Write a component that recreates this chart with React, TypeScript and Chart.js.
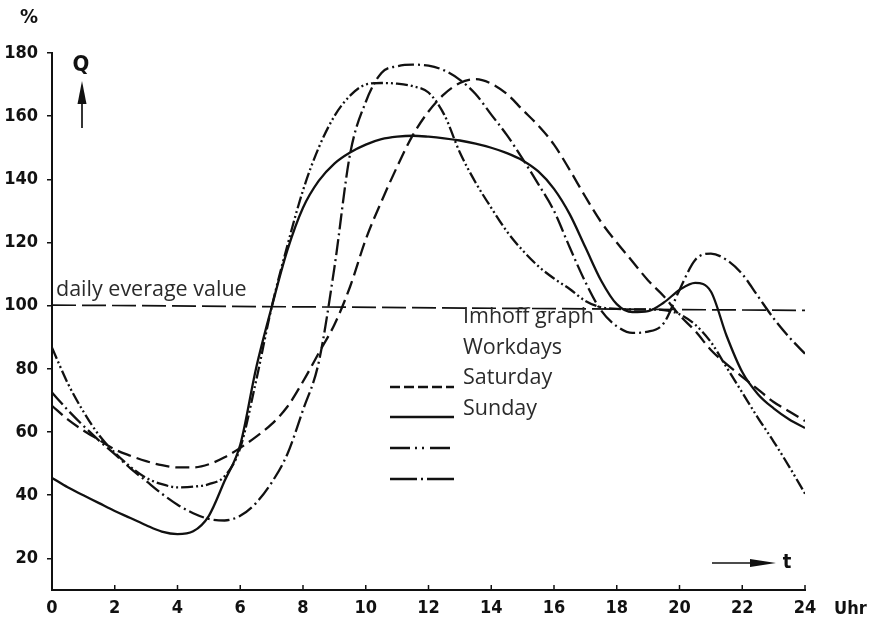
import React, { useEffect, useRef } from 'react';
import { Chart, registerables } from 'chart.js';

Chart.register(...registerables);

// ---- data ----
const hours = [0, 0.5, 1, 1.5, 2, 2.5, 3, 3.5, 4, 4.5, 5, 5.5, 6, 6.5, 7, 7.5, 8, 8.5, 9, 9.5, 10, 10.5, 11, 11.5, 12, 12.5, 13, 13.5, 14, 14.5, 15, 15.5, 16, 16.5, 17, 17.5, 18, 18.5, 19, 19.5, 20, 20.5, 21, 21.5, 22, 22.5, 23, 23.5, 24];

// dashed curve
const imhoffDashed = [68.3, 64, 60.5, 57.5, 54.5, 52.5, 50.8, 49.5, 48.8, 48.8, 49.8, 52, 55, 58.5, 62.5, 68, 76, 85, 94, 106, 121, 133, 144, 154, 161.5, 167, 170.5, 171.7, 170.3, 167, 162, 157, 151, 143, 134.5, 126.5, 120, 114, 108, 103, 97, 92, 86, 81.5, 77.5, 73.5, 69.5, 66.5, 63.5];
// solid curve
const workdaysSolid = [45.5, 42.5, 40, 37.5, 35, 32.8, 30.5, 28.5, 27.7, 28.6, 33.5, 44.5, 56, 80, 99.5, 117.5, 131, 139.5, 145, 148.5, 151, 152.7, 153.5, 153.8, 153.5, 153, 152.3, 151.3, 150, 148.3, 146, 142.5, 137, 129, 118.5, 108, 100.5, 98, 98.3, 101, 105, 107.2, 104.5, 90.5, 79, 72, 67.5, 64, 61.3];
// dash-dot-dot curve
const saturdayDashDotDot = [86.7, 75.5, 66.5, 59, 53.5, 49, 45.5, 43.5, 42.5, 42.7, 43.5, 46, 55, 76, 99.5, 119, 136.5, 150, 160, 166.5, 170, 170.5, 170.3, 169.5, 167.5, 160.5, 148.5, 139, 131, 123.5, 117.5, 112.5, 108.6, 105.3, 101.5, 99.5, 99, 98.8, 98.8, 98.6, 97.3, 94, 88.5, 80.5, 72.5, 64.5, 57, 49, 40.5];
// dash-dot curve
const sundayDashDot = [72.5, 67, 62, 57.3, 53, 48.5, 44.5, 40.5, 37, 34.3, 32.5, 32, 33.5, 37.5, 44, 53, 67, 82, 112, 148, 164.5, 173.7, 175.8, 176.3, 176, 174.5, 171.5, 167, 160.5, 154, 146.5, 138.5, 130, 118.5, 107.5, 98.5, 93.5, 91.4, 91.8, 94.5, 105, 114.5, 116.5, 114.5, 110, 103, 96, 90, 84.8];

// daily average reference line (as drawn, slightly tilted in the scan)
const averageHours = [0, 24];
const averageValues = [100.2, 98.5];

const xTickValues = [0, 2, 4, 6, 8, 10, 12, 14, 16, 18, 20, 22, 24];
const yTickValues = [20, 40, 60, 80, 100, 120, 140, 160, 180];

const legendTitle = 'Imhoff graph';
const legendLabels = ['Workdays', 'Saturday', 'Sunday'];
const averageLabel = 'daily everage value';

// ---- styling ----
const INK = '#111111';
const TEXT_INK = '#2b2b2b';
const LETTER = '"DejaVu Sans Condensed", "DejaVu Sans", sans-serif';
const SANS = '"Open Sans", "Noto Sans", sans-serif';

const DASHED = [14, 6];
const DASH_DOT = [16, 4, 2, 4];
const DASH_DOT_DOT = [12, 3, 2, 3, 2, 3];

const toPoints = (xs: number[], ys: number[]) => xs.map((x, i) => ({ x, y: ys[i] }));

const annotationPlugin = {
  id: 'annotations',
  afterDraw(chart: any) {
    const { ctx, chartArea, scales } = chart;
    const xs = scales.x;
    ctx.save();

    // inner tick marks on the time axis
    ctx.strokeStyle = INK;
    ctx.lineWidth = 1.5;
    ctx.setLineDash([]);
    for (const v of xTickValues) {
      const px = xs.getPixelForValue(v);
      ctx.beginPath();
      ctx.moveTo(px, chartArea.bottom);
      ctx.lineTo(px, chartArea.bottom - 5);
      ctx.stroke();
    }

    ctx.fillStyle = INK;
    ctx.textBaseline = 'middle';

    // "%" unit
    ctx.font = `bold 20px ${LETTER}`;
    ctx.textAlign = 'center';
    ctx.fillText('%', 29, 18);

    // Q with up arrow
    ctx.font = `bold 22px ${LETTER}`;
    ctx.fillText('Q', 81, 65);
    ctx.lineWidth = 1.7;
    ctx.beginPath();
    ctx.moveTo(82, 128);
    ctx.lineTo(82, 100);
    ctx.stroke();
    ctx.beginPath();
    ctx.moveTo(82, 81);
    ctx.lineTo(77.5, 104);
    ctx.lineTo(86.5, 104);
    ctx.closePath();
    ctx.fill();

    // t with right arrow
    ctx.beginPath();
    ctx.moveTo(712, 563);
    ctx.lineTo(752, 563);
    ctx.stroke();
    ctx.beginPath();
    ctx.moveTo(776, 563);
    ctx.lineTo(750, 559);
    ctx.lineTo(750, 567);
    ctx.closePath();
    ctx.fill();
    ctx.font = `bold 20px ${LETTER}`;
    ctx.fillText('t', 787, 563);

    // Uhr
    ctx.font = `bold 18px ${LETTER}`;
    ctx.textAlign = 'left';
    ctx.fillText('Uhr', 834, 609);

    // daily average label
    ctx.fillStyle = TEXT_INK;
    ctx.font = `21.5px ${SANS}`;
    ctx.textBaseline = 'alphabetic';
    ctx.fillText(averageLabel, 56, 296);

    // legend text
    const baselines = [323, 354, 384, 415];
    ctx.fillText(legendTitle, 463, baselines[0]);
    legendLabels.forEach((t, i) => ctx.fillText(t, 463, baselines[i + 1]));

    // legend line samples
    const samples: { y: number; dash: number[] }[] = [
      { y: 387, dash: [10, 4] },
      { y: 417, dash: [] },
      { y: 448, dash: [20, 5, 2, 5, 2, 6] },
      { y: 479, dash: [27, 4, 2, 4] },
    ];
    ctx.strokeStyle = INK;
    ctx.lineWidth = 2.3;
    for (const s of samples) {
      ctx.setLineDash(s.dash);
      ctx.beginPath();
      ctx.moveTo(390, s.y);
      ctx.lineTo(454, s.y);
      ctx.stroke();
    }
    ctx.restore();
  },
};

export default function App() {
  const ref = useRef<HTMLCanvasElement | null>(null);

  useEffect(() => {
    if (!ref.current) return;
    const line = (label: string, data: number[], dash: number[]) => ({
      label,
      data: toPoints(hours, data),
      borderColor: INK,
      borderWidth: 2.3,
      borderDash: dash,
      pointRadius: 0,
      fill: false,
      cubicInterpolationMode: 'monotone' as const,
    });

    const chart = new Chart(ref.current, {
      type: 'line',
      data: {
        datasets: [
          {
            label: averageLabel,
            data: toPoints(averageHours, averageValues),
            borderColor: INK,
            borderWidth: 1.7,
            borderDash: [24, 6],
            pointRadius: 0,
            fill: false,
          },
          line(legendTitle, imhoffDashed, DASHED),
          line(legendLabels[0], workdaysSolid, []),
          line(legendLabels[1], saturdayDashDotDot, DASH_DOT_DOT),
          line(legendLabels[2], sundayDashDot, DASH_DOT),
        ],
      },
      options: {
        responsive: false,
        animation: false,
        devicePixelRatio: 1,
        layout: { padding: { top: 53, right: 69, left: 0, bottom: 0 } },
        plugins: {
          legend: { display: false },
          tooltip: { enabled: false },
        },
        scales: {
          x: {
            type: 'linear',
            min: 0,
            max: 24,
            afterBuildTicks: (s: any) => {
              s.ticks = xTickValues.map((v) => ({ value: v }));
            },
            afterFit: (s: any) => {
              s.height = 42;
            },
            ticks: {
              color: INK,
              padding: 8,
              maxRotation: 0,
              autoSkip: false,
              font: { family: LETTER, size: 18, weight: 'bold' },
            },
            grid: { drawOnChartArea: false, drawTicks: false },
            border: { display: true, color: INK, width: 2 },
          },
          y: {
            type: 'linear',
            min: 10,
            max: 180,
            afterBuildTicks: (s: any) => {
              s.ticks = yTickValues.map((v) => ({ value: v }));
            },
            afterFit: (s: any) => {
              s.width = 52;
            },
            ticks: {
              color: INK,
              padding: 9,
              autoSkip: false,
              font: { family: LETTER, size: 18, weight: 'bold' },
            },
            grid: { drawOnChartArea: false, drawTicks: true, tickLength: 5, color: INK, lineWidth: 1.5 },
            border: { display: true, color: INK, width: 2 },
          },
        },
      },
      plugins: [annotationPlugin],
    });
    return () => chart.destroy();
  }, []);

  return (
    <div style={{ position: 'fixed', left: 0, top: 0, width: 874, height: 632, background: '#fff' }}>
      <canvas ref={ref} width={874} height={632} style={{ width: 874, height: 632, display: 'block' }} />
    </div>
  );
}
